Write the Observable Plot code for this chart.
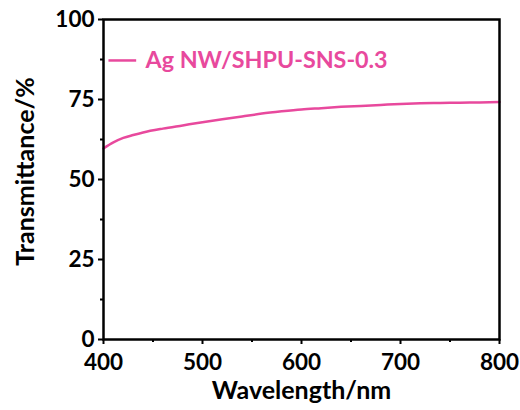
<!DOCTYPE html>
<html><head><meta charset="utf-8">
<script src="https://cdn.jsdelivr.net/npm/d3@7"></script>
<script src="https://cdn.jsdelivr.net/npm/@observablehq/plot@0.6"></script>
<style>
body{margin:0;background:#fff;}
svg{font-family:Lato,"DejaVu Sans",sans-serif;font-weight:bold;}
</style>
</head><body>
<div id="chart"></div>
<script>
const wavelength = [400,410,420,430,440,460,480,500,520,540,560,580,600,620,640,660,680,700,720,740,760,780,800];
const transmittance = [59.7,61.6,63.0,63.9,64.7,65.9,66.9,67.9,68.8,69.7,70.6,71.3,71.9,72.3,72.7,73.0,73.3,73.6,73.8,73.9,74.0,74.1,74.2];
const seriesName = "Ag NW/SHPU-SNS-0.3";
const xLabel = "Wavelength/nm";
const yLabel = "Transmittance/%";
const xTicks = [400,500,600,700,800];
const xMinor = [450,550,650,750];
const yTicks = [0,25,50,75,100];
const yMinor = [12.5,37.5,62.5,87.5];
const color = "#E8499D";

const data = wavelength.map((w,i)=>({w, t: transmittance[i]}));

const chart = Plot.plot({
  width: 520, height: 410,
  marginLeft: 103, marginRight: 21, marginTop: 19, marginBottom: 71,
  x: {domain:[400,800]},
  y: {domain:[0,100]},
  marks: [
    Plot.line(data, {x:"w", y:"t", stroke: color, strokeWidth: 2.5, curve:"monotone-x"}),
    Plot.link([{x1:405,x2:433,y:87.2}], {x1:"x1", x2:"x2", y1:"y", y2:"y", stroke: color, strokeWidth: 2.5}),
    Plot.text([seriesName], {frameAnchor:"top-left", dx:42, dy:41, lineAnchor:"middle", text:d=>d, textAnchor:"start", fill: color, fontSize: 23.3, fontWeight:"bold"}),
    Plot.axisY({ticks: yTicks, tickSize: 5, tickPadding: 4, fontSize: 22.5, stroke:"#000", strokeWidth: 2, label: null}),
    Plot.axisY({ticks: yMinor, tickSize: 3, text: null, strokeWidth: 2, label: null}),
    Plot.axisX({ticks: xTicks, tickSize: 5, tickPadding: 10, fontSize: 22.5, strokeWidth: 2, label: null}),
    Plot.axisX({ticks: xMinor, tickSize: 3, text: null, strokeWidth: 2, label: null}),
    Plot.text([xLabel], {frameAnchor:"bottom", dy:51, lineAnchor:"middle", text:d=>d, fontSize: 25, fontWeight:"bold", fill:"#000"}),
    Plot.text([yLabel], {frameAnchor:"left", dx:-78, dy:-8, rotate:-90, textAnchor:"middle", lineAnchor:"middle", text:d=>d, fontSize: 25, fontWeight:"bold", fill:"#000"}),
    Plot.frame({stroke:"#000", strokeWidth: 2.5})
  ]
});
document.getElementById("chart").appendChild(chart);
</script>
</body></html>
